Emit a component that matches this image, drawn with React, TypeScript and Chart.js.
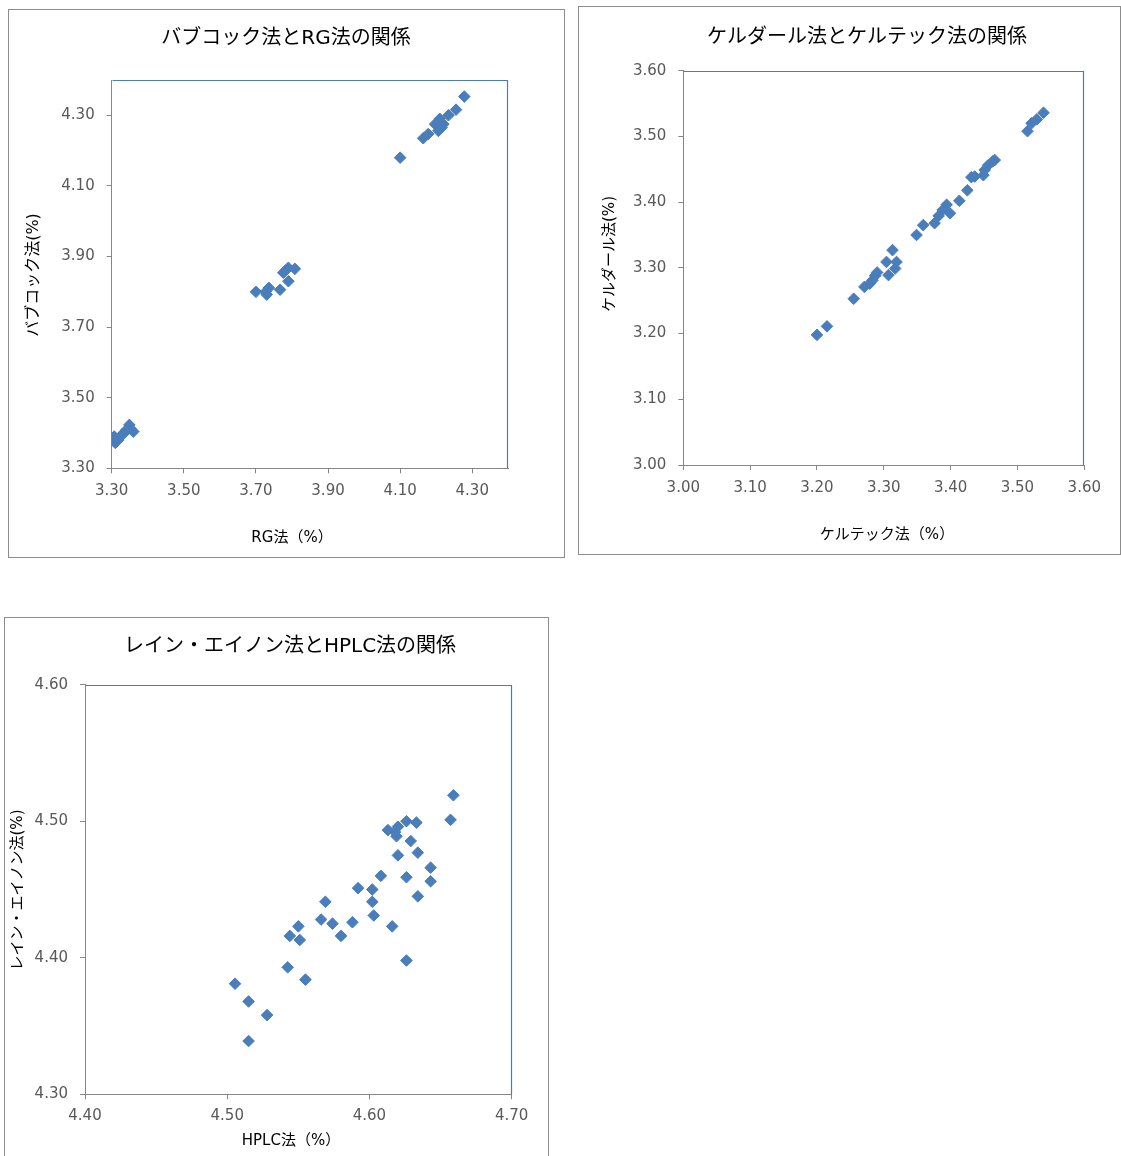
import React, { useEffect, useRef } from "react";
import { Chart, registerables } from "chart.js";

Chart.register(...registerables);

// ---------- Chart 1: バブコック法とRG法の関係 ----------
const rgValues = [
  3.307, 3.31, 3.318, 3.328, 3.335, 3.34, 3.349, 3.352, 3.36,
  3.70, 3.727, 3.736, 3.73, 3.767, 3.776, 3.782, 3.79, 3.808, 3.79,
  4.10, 4.164, 4.178, 4.197, 4.21, 4.206, 4.22, 4.215, 4.234, 4.255, 4.278,
];
const babcockValues = [
  3.39, 3.372, 3.38, 3.395, 3.40, 3.408, 3.423, 3.412, 3.404,
  3.80, 3.80, 3.811, 3.792, 3.806, 3.854, 3.86, 3.868, 3.865, 3.83,
  4.18, 4.235, 4.247, 4.275, 4.29, 4.256, 4.275, 4.265, 4.30, 4.316, 4.353,
];
const chart1XTicks = [3.3, 3.5, 3.7, 3.9, 4.1, 4.3];
const chart1YTicks = [3.3, 3.5, 3.7, 3.9, 4.1, 4.3];

// ---------- Chart 2: ケルダール法とケルテック法の関係 ----------
const keltecValues = [
  3.20, 3.215, 3.255, 3.271, 3.279, 3.283, 3.287, 3.29, 3.307, 3.304,
  3.313, 3.319, 3.317, 3.349, 3.359, 3.376, 3.382, 3.388, 3.394, 3.399,
  3.413, 3.425, 3.431, 3.436, 3.449, 3.451, 3.456, 3.463, 3.466,
  3.515, 3.521, 3.529, 3.539,
];
const kjeldahlValues = [
  3.198, 3.211, 3.253, 3.271, 3.276, 3.281, 3.288, 3.293, 3.289, 3.309,
  3.327, 3.309, 3.299, 3.35, 3.365, 3.368, 3.379, 3.388, 3.396, 3.383,
  3.402, 3.418, 3.438, 3.439, 3.441, 3.449, 3.456, 3.462, 3.464,
  3.508, 3.52, 3.526, 3.536,
];
const chart2XTicks = [3.0, 3.1, 3.2, 3.3, 3.4, 3.5, 3.6];
const chart2YTicks = [3.0, 3.1, 3.2, 3.3, 3.4, 3.5, 3.6];

// ---------- Chart 3: レイン・エイノン法とHPLC法の関係 ----------
const hplcValues = [
  4.5055, 4.515, 4.528, 4.515, 4.5425, 4.555, 4.544, 4.55, 4.551, 4.566,
  4.569, 4.574, 4.58, 4.588, 4.592, 4.602, 4.602, 4.603, 4.608, 4.616,
  4.613, 4.618, 4.62, 4.619, 4.62, 4.626, 4.626, 4.626, 4.629, 4.633,
  4.634, 4.634, 4.643, 4.643, 4.657, 4.659,
];
const laneEynonValues = [
  4.381, 4.368, 4.358, 4.339, 4.393, 4.384, 4.416, 4.423, 4.413, 4.428,
  4.441, 4.425, 4.416, 4.426, 4.451, 4.45, 4.441, 4.431, 4.46, 4.423,
  4.4935, 4.492, 4.496, 4.489, 4.475, 4.50, 4.459, 4.398, 4.4855, 4.499,
  4.477, 4.445, 4.466, 4.456, 4.501, 4.519,
];
const chart3XTicks = [4.4, 4.5, 4.6, 4.7];
const chart3YTicks = [4.3, 4.4, 4.5, 4.6];

const LATIN = '"DejaVu Sans", "Noto Sans CJK JP", sans-serif';
const MARKER = "#4A7EBB";
const AXIS = "#868686";

const decorPlugin = {
  id: "decor",
  afterDraw(chart: any, _args: any, opts: any) {
    const { ctx, chartArea: a } = chart;
    ctx.save();
    ctx.strokeStyle = "#4A7EBB";
    ctx.lineWidth = 1.2;
    ctx.beginPath();
    const l = Math.round(a.left) + 0.5;
    const t = Math.round(a.top) + 0.5;
    const r = Math.round(a.right) - 0.5;
    const b = Math.round(a.bottom) + 0.5;
    ctx.moveTo(l, t);
    ctx.lineTo(r, t);
    ctx.lineTo(r, b);
    ctx.stroke();
    for (const tx of opts.texts || []) {
      ctx.save();
      ctx.translate(tx.x, tx.y);
      ctx.rotate(tx.rot || 0);
      ctx.font = tx.font;
      ctx.fillStyle = tx.color || "#000";
      ctx.textAlign = "center";
      ctx.textBaseline = "middle";
      ctx.fillText(tx.text, 0, 0);
      ctx.restore();
    }
    ctx.restore();
  },
};

type PanelProps = {
  left: number;
  top: number;
  width: number;
  height: number;
  xs: number[];
  ys: number[];
  xMin: number;
  xMax: number;
  yMin: number;
  yMax: number;
  xTicks: number[];
  yTicks: number[];
  areaTop: number;
  padRight: number;
  yAxisWidth: number;
  xAxisHeight: number;
  xTickPad: number;
  yTickPad: number;
  texts: any[];
};

function ScatterPanel(p: PanelProps) {
  const ref = useRef<HTMLCanvasElement | null>(null);
  const cw = p.width - 2;
  const ch = p.height - 2;
  useEffect(() => {
    if (!ref.current) return;
    const tickFont = { family: LATIN, size: 15 };
    const chart = new Chart(ref.current, {
      type: "scatter",
      data: {
        datasets: [
          {
            data: p.xs.map((x, i) => ({ x, y: p.ys[i] })),
            pointStyle: "rectRot",
            pointRadius: 5.8,
            pointBorderWidth: 1,
            backgroundColor: MARKER,
            borderColor: MARKER,
          } as any,
        ],
      },
      options: {
        animation: false,
        responsive: false,
        maintainAspectRatio: false,
        events: [],
        layout: { padding: { left: 0, top: p.areaTop, right: p.padRight, bottom: 0 } },
        plugins: {
          legend: { display: false },
          tooltip: { enabled: false },
          title: { display: false },
          decor: { texts: p.texts },
        } as any,
        scales: {
          x: {
            type: "linear",
            position: "bottom",
            min: p.xMin,
            max: p.xMax,
            afterBuildTicks: (s: any) => {
              s.ticks = p.xTicks.map((v) => ({ value: v }));
            },
            afterFit: (s: any) => {
              s.height = p.xAxisHeight;
            },
            ticks: {
              callback: (v: any) => Number(v).toFixed(2),
              color: "#595959",
              font: tickFont,
              padding: p.xTickPad,
              maxRotation: 0,
              autoSkip: false,
            },
            grid: { drawOnChartArea: false, drawTicks: true, tickLength: 5, color: AXIS },
            border: { display: true, color: AXIS, width: 1 },
          },
          y: {
            type: "linear",
            position: "left",
            min: p.yMin,
            max: p.yMax,
            afterBuildTicks: (s: any) => {
              s.ticks = p.yTicks.map((v) => ({ value: v }));
            },
            afterFit: (s: any) => {
              s.width = p.yAxisWidth;
            },
            ticks: {
              callback: (v: any) => Number(v).toFixed(2),
              color: "#595959",
              font: tickFont,
              padding: p.yTickPad,
              autoSkip: false,
            },
            grid: { drawOnChartArea: false, drawTicks: true, tickLength: 5, color: AXIS },
            border: { display: true, color: AXIS, width: 1 },
          },
        },
      } as any,
      plugins: [decorPlugin],
    });
    return () => chart.destroy();
  }, []);
  return (
    <div
      style={{
        position: "absolute",
        left: p.left,
        top: p.top,
        width: p.width,
        height: p.height,
        boxSizing: "border-box",
        border: "1px solid #8C8C8C",
        background: "#fff",
      }}
    >
      <canvas ref={ref} width={cw} height={ch} style={{ display: "block", width: cw, height: ch }} />
    </div>
  );
}

const titleFont = `20px ${LATIN}`;
const axisFont = `15px ${LATIN}`;

export default function App() {
  return (
    <div
      style={{
        position: "absolute",
        left: 0,
        top: 0,
        width: 1121,
        height: 1156,
        overflow: "hidden",
        background: "#fff",
      }}
    >
      <ScatterPanel
        left={8}
        top={9}
        width={557}
        height={549}
        xs={rgValues}
        ys={babcockValues}
        xMin={3.3}
        xMax={4.4}
        yMin={3.3}
        yMax={4.4}
        xTicks={chart1XTicks}
        yTicks={chart1YTicks}
        areaTop={70}
        padRight={55.7}
        yAxisWidth={102.7}
        xAxisHeight={88.7}
        xTickPad={9}
        yTickPad={12}
        texts={[
          { text: "バブコック法とRG法の関係", x: 277, y: 29, font: titleFont },
          { text: "RG法（%）", x: 283, y: 528, font: axisFont },
          { text: "バブコック法(%)", x: 25, y: 265, font: `16px ${LATIN}`, rot: -Math.PI / 2 },
        ]}
      />
      <ScatterPanel
        left={578}
        top={6}
        width={543}
        height={549}
        xs={keltecValues}
        ys={kjeldahlValues}
        xMin={3.0}
        xMax={3.6}
        yMin={3.0}
        yMax={3.6}
        xTicks={chart2XTicks}
        yTicks={chart2YTicks}
        areaTop={63.7}
        padRight={35.7}
        yAxisWidth={104.3}
        xAxisHeight={89}
        xTickPad={9}
        yTickPad={12}
        texts={[
          { text: "ケルダール法とケルテック法の関係", x: 288, y: 31, font: titleFont },
          { text: "ケルテック法（%）", x: 308, y: 528, font: axisFont },
          { text: "ケルダール法(%)", x: 31, y: 247, font: `15px ${LATIN}`, rot: -Math.PI / 2 },
        ]}
      />
      <ScatterPanel
        left={4}
        top={617}
        width={545}
        height={560}
        xs={hplcValues}
        ys={laneEynonValues}
        xMin={4.4}
        xMax={4.7}
        yMin={4.3}
        yMax={4.6}
        xTicks={chart3XTicks}
        yTicks={chart3YTicks}
        areaTop={66.7}
        padRight={36.3}
        yAxisWidth={80}
        xAxisHeight={81.7}
        xTickPad={8}
        yTickPad={12}
        texts={[
          { text: "レイン・エイノン法とHPLC法の関係", x: 285, y: 28.5, font: titleFont },
          { text: "HPLC法（%）", x: 286, y: 523, font: axisFont },
          { text: "レイン・エイノン法(%)", x: 13, y: 272, font: `15px ${LATIN}`, rot: -Math.PI / 2 },
        ]}
      />
    </div>
  );
}
